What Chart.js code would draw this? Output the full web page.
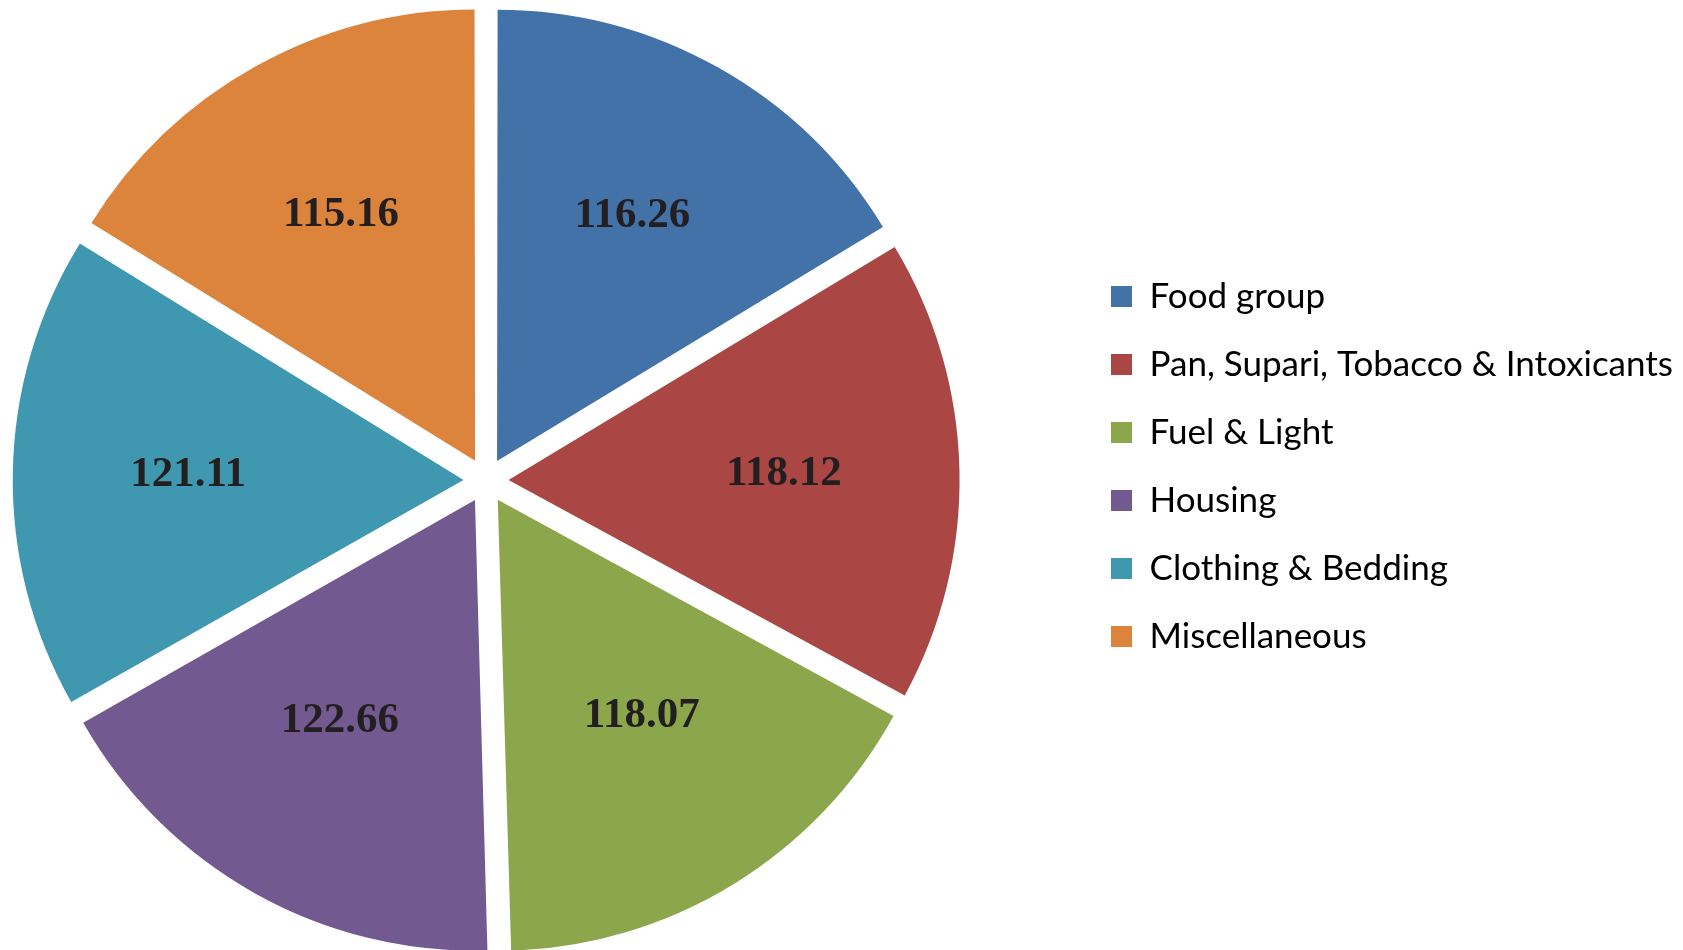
<!DOCTYPE html>
<html>
<head>
<meta charset="utf-8">
<script src="https://cdn.jsdelivr.net/npm/chart.js@4"></script>
<style>
    html, body { margin: 0; padding: 0; background: #fff; overflow: hidden; }
    /* canvas pushed a little to the left so the pie sits where the original had it */
    #wrap { position: absolute; left: -106px; top: 0; width: 1789px; height: 950px; }
</style>
</head>
<body>
<div id="wrap"><canvas id="pieChart"></canvas></div>
<script>
// categories and index values
const categories = ['Food group', 'Pan, Supari, Tobacco & Intoxicants', 'Fuel & Light', 'Housing', 'Clothing & Bedding', 'Miscellaneous'];
const values = [116.26, 118.12, 118.07, 122.66, 121.11, 115.16];
const sliceColors = ['#4372A8', '#AA4644', '#8CA74B', '#72598F', '#3F98AF', '#DC843B'];

// value labels drawn inside each slice
const sliceLabels = {
    id: 'sliceLabels',
    afterDatasetsDraw(chart) {
        const ctx = chart.ctx;
        const meta = chart.getDatasetMeta(0);
        ctx.save();
        ctx.font = 'bold 43px "Liberation Serif", "Times New Roman", serif';
        ctx.fillStyle = '#231f20';
        ctx.textAlign = 'center';
        ctx.textBaseline = 'middle';
        meta.data.forEach((arc, i) => {
            const mid = (arc.startAngle + arc.endAngle) / 2;
            const x = arc.x + Math.cos(mid) * arc.outerRadius * 0.665;
            // labels in the top / bottom slices sit a bit higher in the original
            const y = arc.y + Math.sin(mid) * arc.outerRadius * 0.647 - 14 * Math.abs(Math.sin(mid));
            ctx.fillText(values[i].toFixed(2), x, y);
        });
        ctx.restore();
    }
};

// move the legend up a touch (original legend is not centred on the pie)
const legendNudge = {
    id: 'legendNudge',
    afterLayout(chart) {
        const lg = chart.legend;
        if (lg) {
            lg.top -= 14;
            lg.bottom -= 14;
        }
    }
};

const ctx = document.getElementById('pieChart').getContext('2d');
new Chart(ctx, {
    type: 'pie',
    data: {
        labels: categories,
        datasets: [{
            data: values,
            backgroundColor: sliceColors,
            borderWidth: 0,
            offset: 90,
            hoverOffset: 0,
            radius: 448
        }]
    },
    options: {
        responsive: true,
        maintainAspectRatio: false,
        animation: false,
        layout: {
            padding: { top: 11 }
        },
        plugins: {
            tooltip: { enabled: false },
            legend: {
                position: 'right',
                labels: {
                    boxWidth: 21,
                    boxHeight: 21,
                    padding: 33,
                    color: '#000',
                    font: { family: 'Lato, "Open Sans", sans-serif', size: 35 }
                }
            }
        }
    },
    plugins: [sliceLabels, legendNudge]
});
</script>
</body>
</html>
